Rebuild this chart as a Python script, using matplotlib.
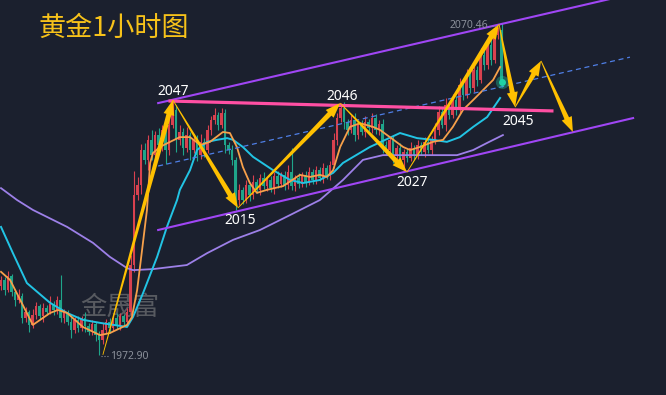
import numpy as np
import matplotlib.pyplot as plt
from matplotlib.patches import Polygon

# hourly gold candles (red = up, green = down)
closes = [
    1994.9, 1992.0, 1996.1, 1991.4, 1989.0, 1990.2, 1983.7, 1985.5, 1981.7, 1984.6,
    1987.3, 1984.3, 1986.7, 1985.5, 1987.9, 1986.1, 1989.0, 1983.7, 1985.5, 1982.6,
    1980.2, 1983.2, 1980.8, 1983.7, 1981.4, 1979.6, 1982.0, 1978.7, 1977.3, 1980.2,
    1982.6, 1980.8, 1983.7, 1981.7, 1984.3, 1982.6, 1985.5, 1999.3, 2019.9, 2022.8,
    2033.1, 2030.2, 2036.1, 2031.6, 2037.5, 2034.6, 2039.0, 2033.1, 2040.5, 2044.9,
    2036.1, 2038.4, 2033.7, 2037.5, 2033.1, 2036.1, 2031.6, 2035.5, 2033.1, 2039.0,
    2041.9, 2043.4, 2040.5, 2044.0, 2034.6, 2033.1, 2030.2, 2018.4, 2021.4, 2018.4,
    2022.8, 2019.9, 2023.7, 2021.4, 2024.9, 2022.5, 2024.3, 2021.9, 2025.5, 2023.1,
    2025.8, 2022.8, 2026.6, 2022.5, 2024.9, 2023.1, 2025.8, 2023.7, 2026.6, 2024.3,
    2027.2, 2024.9, 2027.8, 2025.5, 2028.7, 2036.1, 2042.5, 2045.5, 2041.3, 2039.0,
    2041.9, 2037.5, 2040.5, 2038.4, 2041.3, 2039.6, 2042.5, 2039.0, 2040.8, 2034.6,
    2033.1, 2036.1, 2031.6, 2033.7, 2030.2, 2032.5, 2030.8, 2033.7, 2031.6, 2034.6,
    2032.5, 2035.5, 2033.1, 2036.1, 2039.0, 2044.3, 2040.5, 2046.3, 2043.4, 2047.8,
    2044.9, 2052.2, 2049.3, 2055.2, 2051.3, 2056.6, 2053.7, 2061.0, 2058.1, 2064.0,
    2059.6, 2066.9, 2068.4, 2053.1]
first_open = 1993.0

up_wick = [
    1.2, 0.8, 1.5, 0.6, 1.0, 2.0, 0.8, 1.4, 0.7, 1.8,
    1.0, 0.6, 1.3, 0.9, 2.2, 0.8, 1.1, 7.4, 1.0, 0.7,
    1.5, 0.9, 1.2, 0.6, 1.8, 0.8, 1.0, 0.7, 1.3, 2.0,
    0.9, 1.1, 0.8, 1.5, 1.0, 0.7, 1.2, 3.0, 7.0, 2.5,
    1.8, 2.2, 1.5, 3.0, 1.2, 2.0, 1.6, 1.0, 2.4, 2.9,
    1.5, 2.0, 1.2, 2.5, 1.0, 1.8, 1.4, 2.2, 1.0, 1.5,
    1.2, 2.0, 1.0, 1.6, 1.2, 0.8, 1.4, 1.0, 1.8, 0.9,
    1.5, 1.0, 2.0, 0.8, 1.2, 1.6, 0.9, 1.3, 1.0, 1.5,
    0.8, 1.2, 2.0, 7.1, 1.0, 1.4, 0.8, 1.2, 1.6, 0.9,
    1.3, 1.0, 1.5, 0.8, 1.2, 2.0, 1.5, 1.4, 1.8, 1.0,
    1.5, 2.2, 1.0, 1.4, 1.8, 1.0, 1.6, 1.2, 1.0, 1.5,
    1.2, 0.8, 1.4, 1.0, 1.6, 0.9, 1.2, 1.8, 1.0, 1.4,
    0.8, 1.5, 1.0, 1.2, 2.0, 1.6, 1.2, 2.0, 1.0, 1.8,
    1.2, 2.2, 1.4, 1.8, 1.0, 2.5, 1.2, 2.0, 1.5, 2.2,
    1.8, 1.5, 1.0, 2.06]
dn_wick = [
    0.9, 1.5, 0.7, 1.2, 1.8, 0.8, 1.4, 1.0, 2.0, 0.9,
    1.3, 0.8, 1.6, 1.0, 0.7, 1.4, 1.1, 1.0, 1.5, 0.9,
    2.2, 1.0, 1.3, 0.8, 1.8, 1.0, 0.9, 1.6, 4.4, 1.2,
    1.0, 1.5, 0.8, 1.2, 1.6, 0.9, 1.3, 1.0, 2.0, 1.5,
    2.5, 1.2, 3.0, 1.5, 2.0, 1.2, 1.8, 4.0, 1.5, 1.0,
    3.5, 1.4, 2.2, 1.2, 2.8, 1.0, 1.6, 1.2, 2.0, 1.0,
    1.4, 1.0, 1.6, 0.8, 2.5, 1.2, 1.5, 2.9, 1.6, 1.2,
    1.0, 1.8, 1.2, 1.0, 1.5, 0.9, 1.3, 1.0, 1.6, 1.2,
    1.0, 1.4, 1.2, 1.0, 1.5, 1.2, 0.8, 1.6, 1.0, 1.3,
    1.2, 1.0, 1.5, 0.8, 1.2, 1.0, 1.5, 1.2, 2.0, 1.4,
    1.0, 1.8, 1.2, 1.0, 1.5, 1.0, 1.4, 1.2, 1.6, 2.5,
    1.4, 1.8, 2.4, 1.2, 1.6, 2.9, 1.2, 1.0, 1.5, 1.2,
    1.0, 1.4, 1.0, 1.6, 1.2, 1.5, 1.0, 1.8, 1.2, 1.0,
    1.5, 1.2, 1.6, 1.0, 1.4, 1.2, 1.8, 1.0, 1.5, 1.2,
    1.4, 1.0, 1.2, 1.5]

# moving averages (bar index, price)
ma_fast_x = [0, 2.6, 9.1, 14.0, 16.3, 18.9, 23.4, 28.3, 31.1, 36.0, 37.4, 38.9, 40.3,
             41.7, 42.6, 43.4, 45.4, 48.3, 51.1, 54.0, 56.9, 59.7, 63.4, 65.4, 67.4,
             69.1, 71.1, 73.1, 76.0, 80.6, 85.4, 88.3, 91.1, 93.1, 94.9, 96.9, 99.7,
             102.6, 106.3, 108.3, 111.1, 114.9, 116.9, 119.7, 123.4, 126.3, 129.1,
             132.0, 134.9, 137.7, 140.6, 142.6]
ma_fast = [1997.3, 1994.9, 1981.7, 1985.2, 1986.1, 1985.2, 1981.1, 1978.7, 1979.3, 1981.7,
           1984.0, 1992.0, 2003.7, 2015.5, 2029.3, 2032.2, 2034.0, 2035.5, 2036.9, 2036.9,
           2034.6, 2035.5, 2038.4, 2038.1, 2034.0, 2028.1, 2023.4, 2020.5, 2021.4, 2022.5,
           2025.8, 2025.2, 2025.8, 2025.2, 2027.2, 2034.0, 2039.9, 2041.0, 2039.9, 2039.0,
           2036.9, 2034.0, 2033.1, 2034.0, 2035.5, 2036.1, 2039.9, 2044.9, 2047.8, 2050.7,
           2053.7, 2057.5]
ma_mid_x = [0, 3.4, 7.4, 14.0, 18.9, 23.4, 28.3, 36.0, 37.7, 40.6, 44.6, 47.4, 50.3, 51.1,
            54.0, 56.0, 58.9, 61.7, 64.6, 66.3, 69.1, 72.0, 77.7, 82.6, 86.3, 91.1, 94.9,
            97.7, 105.4, 114.0, 118.9, 123.4, 127.4, 131.1, 134.9, 138.9, 142.6]
ma_mid = [2010.5, 2002.8, 1994.0, 1988.2, 1985.2, 1983.2, 1982.3, 1981.1, 1984.0, 1991.1,
          2001.7, 2010.5, 2018.4, 2021.4, 2027.2, 2033.1, 2035.5, 2036.1, 2036.6, 2036.1,
          2034.0, 2031.1, 2027.2, 2024.3, 2023.4, 2024.3, 2026.4, 2029.3, 2034.0, 2038.1,
          2036.6, 2036.1, 2035.5, 2036.9, 2039.9, 2042.8, 2048.4]
ma_slow_x = [0, 4.6, 9.1, 18.9, 26.3, 31.1, 36.0, 37.7, 43.4, 53.1, 58.9, 66.3, 74.0,
             82.6, 91.1, 97.7, 103.4, 109.1, 119.7, 130.3, 134.9, 138.9, 143.4]
ma_slow = [2021.9, 2018.4, 2015.5, 2010.5, 2005.8, 2001.7, 1998.4, 1997.8, 1998.1, 1999.3,
           2002.8, 2006.7, 2009.6, 2014.0, 2018.4, 2024.3, 2030.2, 2031.6, 2031.6, 2031.6,
           2033.1, 2035.2, 2037.5]

# trend lines: (bar, price) end points
channel_top = [(44.9, 2046.9), (174.0, 2077.5)]
channel_bottom = [(44.9, 2009.6), (180.6, 2042.5)]
channel_mid = [(44.9, 2028.4), (179.7, 2060.4)]
resistance = [(48.3, 2047.5), (157.4, 2044.6)]

# swing points joined by the arrows, then the projected path
swings = [(29.1, 1972.9), (49.1, 2047.8), (67.7, 2016.1), (96.9, 2046.9),
          (116.0, 2026.6), (142.3, 2070.1), (146.9, 2045.7), (154.3, 2059.3),
          (163.4, 2038.4)]
swing_labels = [("2047", 49.1, 2050.2), ("2015", 68.3, 2012.5), ("2046", 97.4, 2048.7),
                ("2027", 117.4, 2023.7), ("2045", 147.7, 2041.6)]

high_mark = 2070.46
low_mark = 1972.90

bg = "#1b202e"
up_col = "#d9414f"
dn_col = "#1fa58a"
gold = "#ffc000"

plt.rcParams["font.family"] = ["Noto Sans CJK SC", "DejaVu Sans"]

fig = plt.figure(figsize=(6.66, 3.95), dpi=100, facecolor=bg)
ax = fig.add_axes([0, 0, 1, 1])
ax.set_facecolor(bg)
ax.set_xlim(-0.29, 190)
ax.set_ylim(1961.1, 2077.2)
ax.axis("off")

c = np.array(closes)
o = np.array([first_open] + closes[:-1])
hi = np.maximum(o, c) + np.array(up_wick)
lo = np.minimum(o, c) - np.array(dn_wick)
x = np.arange(len(c))
cols = np.where(c >= o, up_col, dn_col)

ax.vlines(x, lo, hi, colors=cols, linewidth=0.8, zorder=2)
ax.bar(x, np.maximum(np.abs(c - o), 0.4), bottom=np.minimum(o, c), width=0.62,
       color=cols, linewidth=0, zorder=2)

ax.plot(ma_slow_x, ma_slow, color="#9d80e8", lw=1.3, zorder=3)
ax.plot(ma_mid_x, ma_mid, color="#22c4e4", lw=1.4, zorder=3)
ax.plot(ma_fast_x, ma_fast, color="#f7a04a", lw=1.3, zorder=3)

for seg in (channel_top, channel_bottom):
    ax.plot(*zip(*seg), color="#a046f5", lw=1.5, zorder=4)
ax.plot(*zip(*channel_mid), color="#4f7fe6", lw=0.9, dashes=(4, 3), zorder=4)
ax.plot(*zip(*resistance), color="#ff4fa3", lw=2.3, zorder=4)


def tapered_arrow(p0, p1, w0=0.8, w1=5.0, head_len=15, head_w=11):
    a = ax.transData.transform(p0)
    b = ax.transData.transform(p1)
    d = b - a
    u = d / np.hypot(*d)
    n = np.array([-u[1], u[0]])
    base = b - u * head_len
    pts = [a + n * w0 / 2, base + n * w1 / 2, base + n * head_w / 2, b,
           base - n * head_w / 2, base - n * w1 / 2, a - n * w0 / 2]
    pts = ax.transData.inverted().transform(pts)
    ax.add_patch(Polygon(pts, closed=True, facecolor=gold, edgecolor="none", zorder=6))


for p0, p1 in zip(swings[:-1], swings[1:]):
    tapered_arrow(p0, p1)

for txt, bx, py in swing_labels:
    ax.text(bx, py, txt, color="white", fontsize=10, ha="center", va="center",
            family=["Noto Sans", "DejaVu Sans"], zorder=7)

# last price marker
ax.scatter([x[-1]], [c[-1]], s=90, color="#1fd1a4", alpha=0.35, linewidths=0, zorder=5)
ax.scatter([x[-1]], [c[-1]], s=25, color="#1fd1a4", linewidths=0, zorder=5)

# extreme price tags
ax.text(133.7, high_mark - 0.9, f"{high_mark:.2f}", color="#8b909a", fontsize=7.5,
        ha="center", va="center", family=["Noto Sans", "DejaVu Sans"], zorder=7)
ax.plot([139.5, 141.6], [high_mark - 0.9, high_mark - 0.9], color="#8b909a", lw=0.8,
        ls=":", zorder=7)
ax.text(36.6, low_mark - 0.6, f"{low_mark:.2f}", color="#8b909a", fontsize=7.5,
        ha="center", va="center", family=["Noto Sans", "DejaVu Sans"], zorder=7)
ax.plot([28.6, 30.9], [low_mark - 0.3, low_mark - 0.3], color="#8b909a", lw=0.8,
        ls=":", zorder=7)

ax.text(0.171, 0.929, "黄金1小时图", transform=ax.transAxes, color="#f7c21a",
        fontsize=19.5, ha="center", va="center", zorder=8)
ax.text(0.180, 0.223, "金晟富", transform=ax.transAxes, color="#8a8a8a", alpha=0.55,
        fontsize=19, ha="center", va="center", zorder=1)

fig.savefig("out.png", dpi=100, facecolor=bg)
